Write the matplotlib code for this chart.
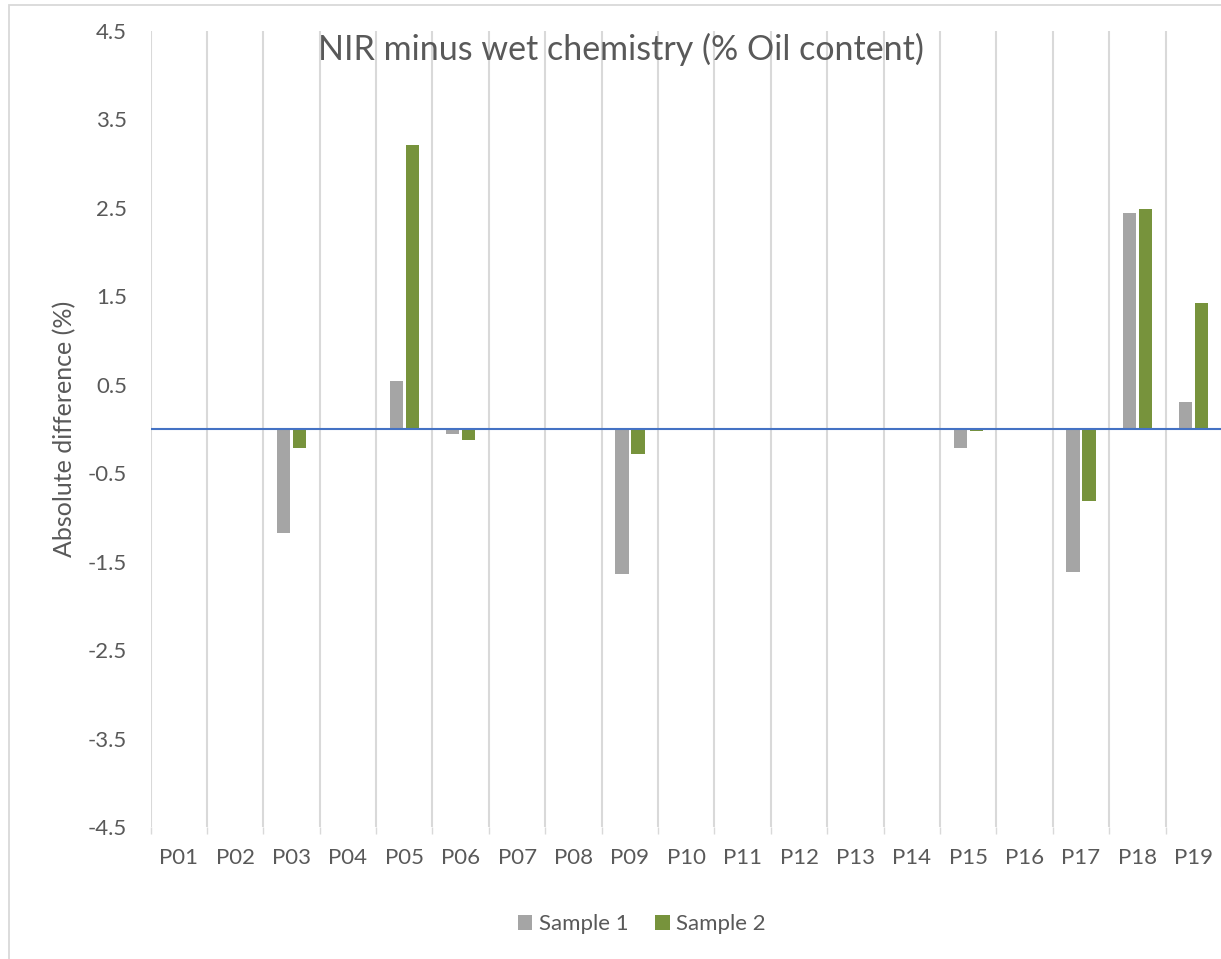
import matplotlib.pyplot as plt
import numpy as np
from matplotlib.patches import Rectangle

plt.rcParams['font.family'] = ['Lato', 'DejaVu Sans']

# data
plots = ['P01', 'P02', 'P03', 'P04', 'P05', 'P06', 'P07', 'P08', 'P09', 'P10',
         'P11', 'P12', 'P13', 'P14', 'P15', 'P16', 'P17', 'P18', 'P19']
sample_1 = [0, 0, -1.18, 0, 0.54, -0.06, 0, 0, -1.64, 0,
            0, 0, 0, 0, -0.22, 0, -1.62, 2.44, 0.30]
sample_2 = [0, 0, -0.21, 0, 3.21, -0.13, 0, 0, -0.28, 0,
            0, 0, 0, 0, -0.02, 0, -0.81, 2.49, 1.43]
y_ticks = [-4.5, -3.5, -2.5, -1.5, -0.5, 0.5, 1.5, 2.5, 3.5, 4.5]

grey = '#A5A5A5'
green = '#77933C'
txt = '#595959'
grid = '#D9D9D9'

fig = plt.figure(figsize=(12.21, 9.59), dpi=100)
W, H = 1221, 959
ax = fig.add_axes([150.5 / W, 1 - 827 / H, (1222 - 150.5) / W, (827 - 31) / H])

# chart area border (cropped on right/bottom)
fig.patches.append(Rectangle((9 / W, -0.1), 1.2, 1 - 4.5 / H + 0.1, transform=fig.transFigure,
                             fill=False, edgecolor=grid, linewidth=1.3, zorder=0))

x = np.arange(len(plots))
bw = 0.236
off = 0.142
ax.bar(x - off, sample_1, bw, color=grey, label='Sample 1', zorder=3)
ax.bar(x + off, sample_2, bw, color=green, label='Sample 2', zorder=3)
ax.axhline(0, color='#4472C4', linewidth=1.5, zorder=4)

ax.set_xlim(-0.5, len(plots) - 0.5)
ax.set_ylim(-4.5, 4.5)
ax.set_yticks(y_ticks)
ax.set_yticklabels([f'{v:.1f}' for v in y_ticks])
ax.set_xticks(x)
ax.set_xticklabels(plots)
ax.set_xticks(np.arange(-0.5, len(plots)), minor=True)
ax.grid(True, which='minor', axis='x', color=grid, linewidth=1.5, zorder=0)
ax.tick_params(axis='x', which='major', length=0, pad=15, labelsize=16, labelcolor=txt)
ax.tick_params(axis='x', which='minor', length=5, color=grid, width=1)
ax.tick_params(axis='y', length=0, pad=17, labelsize=16, labelcolor=txt)
for s in ax.spines.values():
    s.set_visible(False)

ax.set_ylabel('Absolute difference (%)', fontsize=18, color=txt)
ax.yaxis.set_label_coords(-0.069, 0.5)

fig.text(621 / W, 1 - 49 / H, 'NIR minus wet chemistry (% Oil content)', ha='center', va='center',
         fontsize=24.5, color=txt)

fig.legend(loc='center', bbox_to_anchor=(642 / W, 1 - 924 / H), ncol=2, frameon=False,
           fontsize=16, labelcolor=txt, handlelength=0.65, handleheight=0.65,
           handletextpad=0.3, columnspacing=1.2)

fig.savefig('out.png', dpi=100)
